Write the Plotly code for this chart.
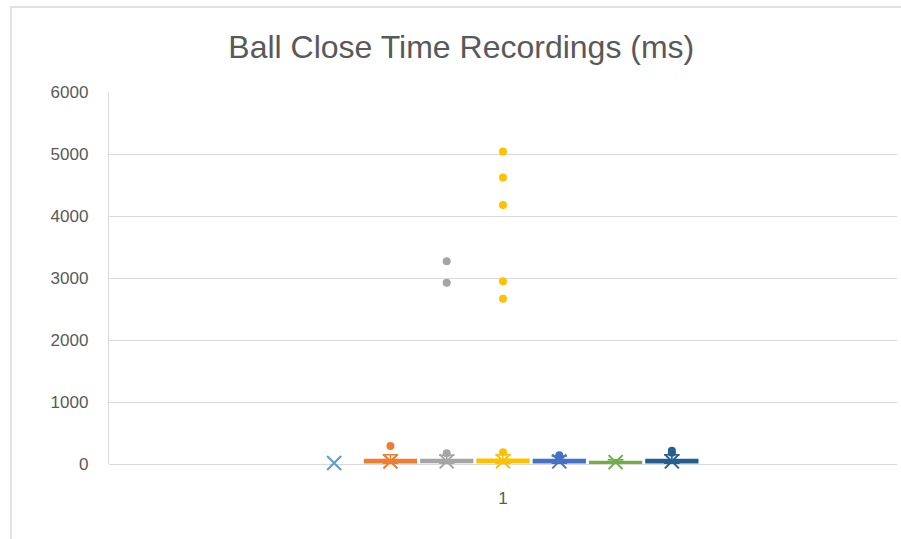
import plotly.graph_objects as go

# One recording session on the category axis, seven sensor series
category = ["1"]
series_names = ["Series 1", "Series 2", "Series 3", "Series 4", "Series 5", "Series 6", "Series 7"]
series_colors = ["#5B9BD5", "#ED7D31", "#A5A5A5", "#FFC000", "#4472C4", "#70AD47", "#255E91"]

# Box statistics per series (ms)
q1_ms = [10, 22, 24, 24, 22, 10, 22]
median_ms = [10, 45, 48, 50, 45, 25, 48]
q3_ms = [10, 72, 74, 76, 72, 40, 74]
lower_fence_ms = [0, 0, 0, 0, 0, 0, 0]
upper_fence_ms = [30, 150, 140, 150, 130, 70, 150]
mean_ms = [15, 40, 42, 45, 42, 30, 42]

# Points beyond the whiskers (ms)
outliers_ms = [
    [],
    [290],
    [175, 2923, 3270],
    [190, 2665, 2948, 4177, 4621, 5040],
    [140],
    [],
    [180, 215],
]

fig = go.Figure()

for i, name in enumerate(series_names):
    color = series_colors[i]
    collapsed = q1_ms[i] == q3_ms[i]
    fig.add_trace(go.Box(
        name=name,
        x=category,
        q1=[q1_ms[i]],
        median=[median_ms[i]],
        q3=[q3_ms[i]],
        lowerfence=[lower_fence_ms[i]],
        upperfence=[upper_fence_ms[i]],
        offsetgroup=f"g{i}",
        fillcolor="rgba(0,0,0,0)" if collapsed else color,
        line=dict(color=color, width=0 if collapsed else 1.5),
        whiskerwidth=0.3,
        showlegend=False,
        hoverinfo="skip",
    ))

for i, name in enumerate(series_names):
    color = series_colors[i]
    # mean marker
    fig.add_trace(go.Scatter(
        x=category,
        y=[mean_ms[i]],
        mode="markers",
        offsetgroup=f"g{i}",
        cliponaxis=False,
        marker=dict(symbol="x-thin-open", size=14, color=color, line=dict(color=color, width=2)),
        showlegend=False,
        hoverinfo="skip",
    ))
    # outlier points
    if outliers_ms[i]:
        fig.add_trace(go.Scatter(
            x=category * len(outliers_ms[i]),
            y=outliers_ms[i],
            mode="markers",
            offsetgroup=f"g{i}",
            cliponaxis=False,
            marker=dict(symbol="circle", size=8, color=color),
            showlegend=False,
            hoverinfo="skip",
        ))

grid = "#D9D9D9"
text_color = "#595959"
font_family = "Liberation Sans, Arial, sans-serif"

fig.update_layout(
    width=901,
    height=539,
    margin=dict(l=109, r=4, t=92, b=75),
    paper_bgcolor="white",
    plot_bgcolor="white",
    boxmode="group",
    boxgap=0.5,
    boxgroupgap=0.08,
    scattermode="group",
    scattergap=0.5,
    font=dict(family=font_family, color=text_color, size=16),
    title=dict(
        text="Ball Close Time Recordings (ms)",
        x=0.512, xref="container", xanchor="center",
        y=0.913, yref="container", yanchor="middle",
        font=dict(family=font_family, size=32, color=text_color),
    ),
    xaxis=dict(
        type="category",
        range=[-0.5, 0.5],
        showgrid=False,
        showline=False,
        zeroline=False,
        ticks="",
        ticklabelstandoff=22,
        tickfont=dict(size=17, color=text_color),
    ),
    yaxis=dict(
        range=[0, 6000],
        dtick=1000,
        showgrid=True,
        gridcolor=grid,
        gridwidth=1.3,
        showline=True,
        linecolor=grid,
        linewidth=1.3,
        zeroline=True,
        zerolinecolor=grid,
        zerolinewidth=1.3,
        ticks="",
        ticklabelstandoff=16,
        tickfont=dict(size=17, color=text_color),
    ),
    shapes=[
        # chart frame running off the left and top edges
        dict(
            type="path",
            xref="paper", yref="paper",
            path="M -0.1244,-0.25 L -0.1244,1.2285 L 1.05,1.2285",
            line=dict(color=grid, width=1.5),
            layer="below",
        )
    ],
)

fig.write_html("out.html")
